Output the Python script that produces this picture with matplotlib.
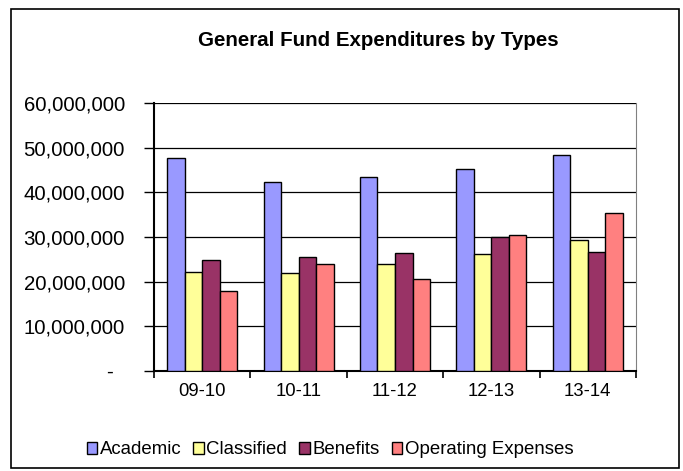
import matplotlib
matplotlib.use("Agg")
import matplotlib.pyplot as plt
from matplotlib.patches import Rectangle
from matplotlib.ticker import FuncFormatter, FixedLocator
import numpy as np

plt.rcParams['font.family'] = ['Liberation Sans', 'DejaVu Sans']

years = ["09-10", "10-11", "11-12", "12-13", "13-14"]
series_names = ["Academic", "Classified", "Benefits", "Operating Expenses"]
academic = [47.6e6, 42.4e6, 43.4e6, 45.3e6, 48.3e6]
classified = [22.2e6, 21.9e6, 23.9e6, 26.1e6, 29.4e6]
benefits = [24.8e6, 25.5e6, 26.4e6, 30.0e6, 26.7e6]
operating = [18.0e6, 23.9e6, 20.5e6, 30.4e6, 35.3e6]
colors = ["#9999FF", "#FFFF99", "#993366", "#FF8080"]

W, H = 683, 471
fig = plt.figure(figsize=(W / 100, H / 100), dpi=100)
fig.patch.set_facecolor("white")

# chart border
fig.add_artist(Rectangle((11 / W, (H - 468) / H), (679 - 11) / W, (468 - 9) / H,
                         transform=fig.transFigure, fill=False, edgecolor="black", linewidth=1.2))

left, right, top, bottom = 154, 636, 103, 371
ax = fig.add_axes([left / W, (H - bottom) / H, (right - left) / W, (bottom - top) / H])

x = np.arange(len(years))
bw = 0.182
all_series = [academic, classified, benefits, operating]
for i, (vals, c, name) in enumerate(zip(all_series, colors, series_names)):
    ax.bar(x + (i - 1.5) * bw, vals, width=bw, color=c, edgecolor="black",
           linewidth=1.0, label=name, zorder=3)

ax.set_xlim(-0.5, len(years) - 0.5)
ax.set_ylim(0, 60e6)
ax.set_yticks(np.arange(0, 60e6 + 1, 10e6))
ax.yaxis.set_major_formatter(FuncFormatter(lambda v, p: "-  " if v == 0 else f"{int(v):,}"))
ax.yaxis.grid(True, color="black", linewidth=0.9, zorder=0)
ax.set_axisbelow(True)

ax.set_xticks(x)
ax.set_xticklabels(years)
ax.xaxis.set_minor_locator(FixedLocator(np.arange(-0.5, len(years), 1.0)))
ax.tick_params(axis="x", which="major", length=0, pad=9, labelsize=13.3)
ax.tick_params(axis="x", which="minor", length=5, width=1.2, direction="out")
ax.tick_params(axis="y", length=7, width=1.0, direction="out", pad=14, labelsize=14.7)

ax.spines["top"].set_visible(False)
ax.spines["right"].set_color("#808080")
ax.spines["left"].set_linewidth(1.5)
ax.spines["bottom"].set_linewidth(1.5)

fig.text(378 / W, (H - 41) / H, "General Fund Expenditures by Types",
         ha="center", va="center", fontsize=14.8, fontweight="bold")

handles, labels = ax.get_legend_handles_labels()
leg = fig.legend(handles, labels, loc="center", bbox_to_anchor=(330 / W, (H - 450) / H),
                 ncol=4, frameon=False, fontsize=13.4, handlelength=0.55, handleheight=0.55,
                 handletextpad=0.15, columnspacing=0.65, borderpad=0)

fig.savefig("out.png", dpi=100, facecolor="white")
